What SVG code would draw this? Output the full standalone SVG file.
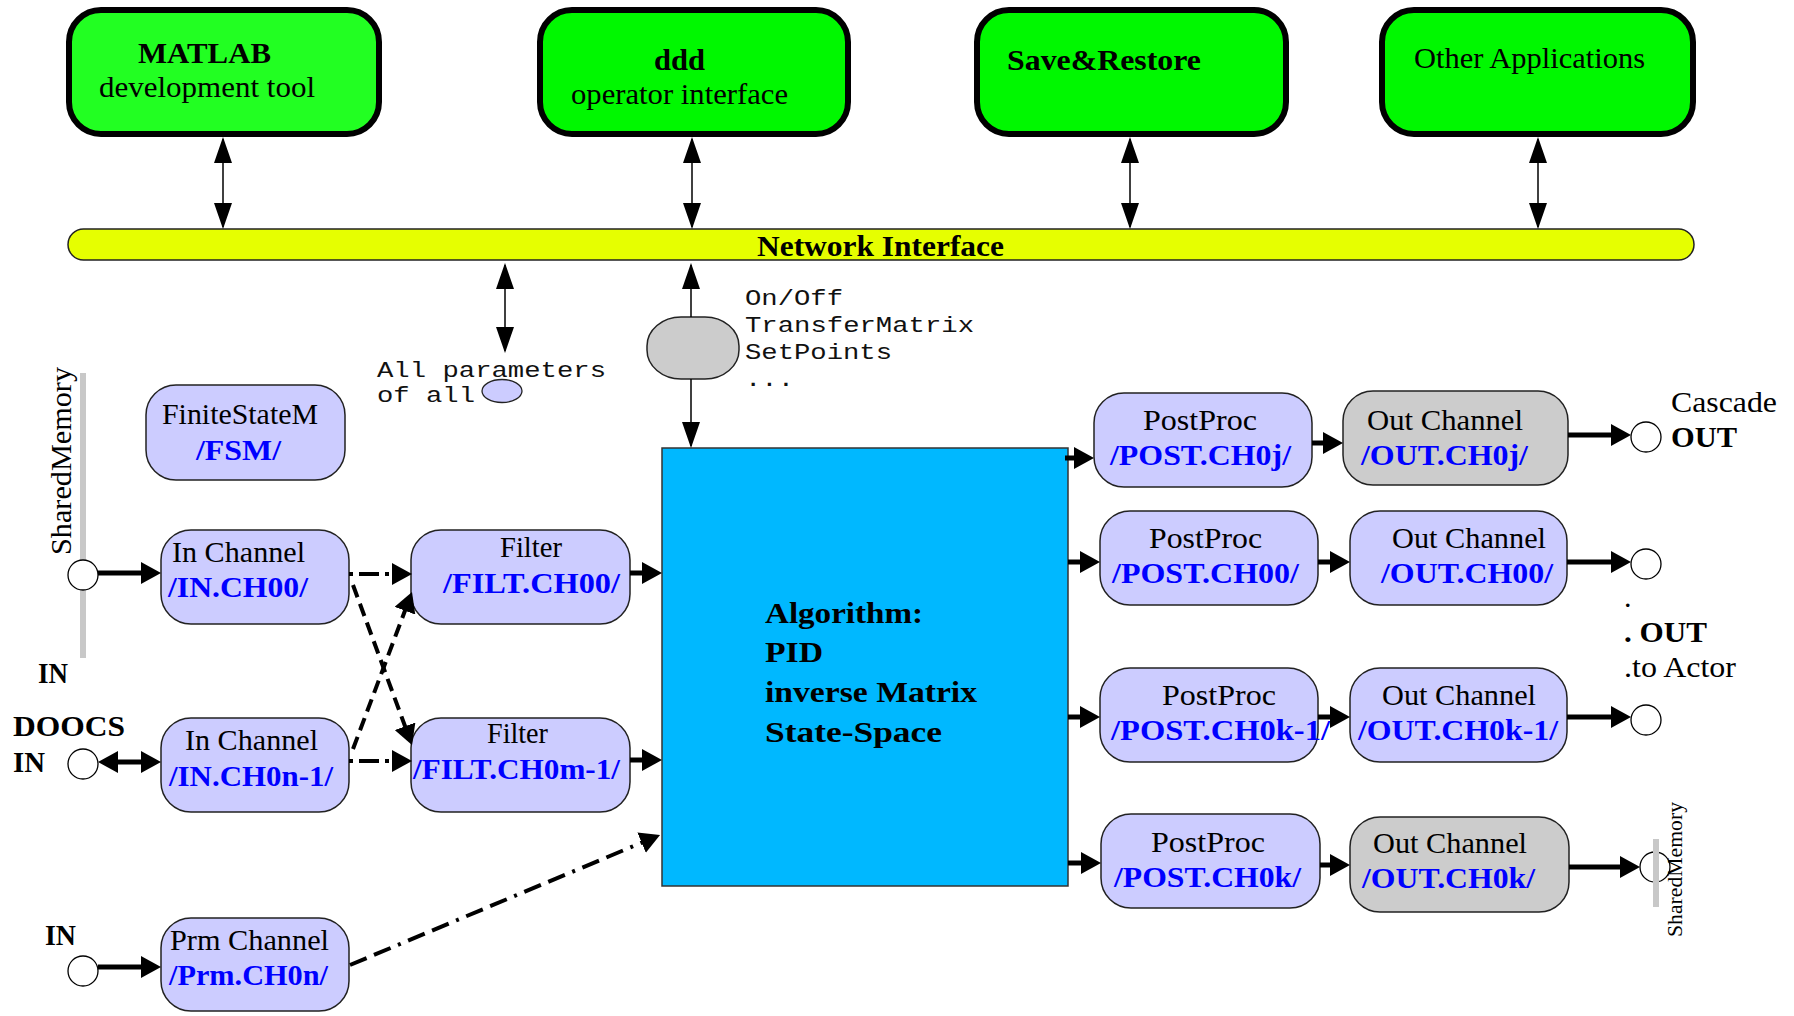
<svg xmlns="http://www.w3.org/2000/svg" width="1794" height="1016" viewBox="0 0 1794 1016">
  <style>
    .app { stroke: #000; stroke-width: 6; }
    .proc { fill: #ccccff; stroke: #222; stroke-width: 1.5; }
    .gray { fill: #cccccc; stroke: #222; stroke-width: 1.5; }
    .port { fill: #fff; stroke: #000; stroke-width: 1.3; }
    .bar { fill: #c8c8c8; }
    .t { font-family: "Liberation Serif", "Times New Roman", serif; font-size: 30px; fill: #000; }
    .b { font-weight: bold; }
    .id { font-weight: bold; fill: #0000ff; }
    .mono { font-family: "Liberation Mono", "Courier New", monospace; font-size: 22px; fill: #111; }
    .thin { stroke: #000; stroke-width: 1.5; fill: none; }
    .thick { stroke: #000; stroke-width: 5; fill: none; }
    .dashdot { stroke: #000; stroke-width: 4; fill: none; stroke-dasharray: 4 6 20 6; }
    .dash { stroke: #000; stroke-width: 4; fill: none; stroke-dasharray: 13 7; }
    .longdd { stroke: #000; stroke-width: 4; fill: none; stroke-dasharray: 18 8 18 8 3 8; }
  </style>
  <defs>
    <!-- wide filled head for the signal flow lines -->
    <marker id="head" markerUnits="userSpaceOnUse" viewBox="0 0 20 22" markerWidth="20" markerHeight="22" refX="14" refY="11" orient="auto-start-reverse">
      <path d="M0,0 L20,11 L0,22 z" fill="#000"/>
    </marker>
    <!-- slim head for the network links -->
    <marker id="slim" markerUnits="userSpaceOnUse" viewBox="0 0 26 18" markerWidth="26" markerHeight="18" refX="24" refY="9" orient="auto-start-reverse">
      <path d="M0,0 L26,9 L0,18 z" fill="#000"/>
    </marker>
  </defs>

  <rect width="1794" height="1016" fill="#fff"/>

  <!-- applications -->
  <g id="matlab">
    <rect class="app" x="69" y="10" width="310" height="124" rx="32" fill="#22ff22"/>
    <text class="t b" x="138" y="63" textLength="133" lengthAdjust="spacingAndGlyphs">MATLAB</text>
    <text class="t" x="99" y="97" textLength="216" lengthAdjust="spacingAndGlyphs">development tool</text>
  </g>
  <g id="ddd">
    <rect class="app" x="540" y="10" width="308" height="124" rx="32" fill="#00f800"/>
    <text class="t b" x="654" y="70" textLength="51" lengthAdjust="spacingAndGlyphs">ddd</text>
    <text class="t" x="571" y="104" textLength="217" lengthAdjust="spacingAndGlyphs">operator interface</text>
  </g>
  <g id="save-restore">
    <rect class="app" x="977" y="10" width="309" height="124" rx="32" fill="#00f800"/>
    <text class="t b" x="1007" y="70" textLength="194" lengthAdjust="spacingAndGlyphs">Save&amp;Restore</text>
  </g>
  <g id="other-apps">
    <rect class="app" x="1382" y="10" width="311" height="124" rx="32" fill="#00f800"/>
    <text class="t" x="1414" y="68" textLength="231" lengthAdjust="spacingAndGlyphs">Other Applications</text>
  </g>

  <!-- network bus -->
  <g id="network">
    <rect x="68" y="229" width="1626" height="31" rx="15.5" fill="#e6ff00" stroke="#222" stroke-width="1.5"/>
    <text class="t b" x="757" y="256" textLength="247" lengthAdjust="spacingAndGlyphs">Network Interface</text>
  </g>

  <!-- parameter access -->
  <g id="all-params">
    <text class="mono" x="377" y="377" textLength="229" lengthAdjust="spacingAndGlyphs">All parameters</text>
    <text class="mono" x="377" y="402" textLength="98" lengthAdjust="spacingAndGlyphs">of all</text>
    <ellipse cx="502" cy="391" rx="20" ry="11.5" fill="#ccccff" stroke="#222" stroke-width="1.3"/>
  </g>
  <g id="control-params">
    <rect class="gray" x="647" y="317" width="92" height="62" rx="34" ry="29"/>
    <text class="mono" x="745" y="305" textLength="98" lengthAdjust="spacingAndGlyphs">On/Off</text>
    <text class="mono" x="745" y="332" textLength="229" lengthAdjust="spacingAndGlyphs">TransferMatrix</text>
    <text class="mono" x="745" y="359" textLength="147" lengthAdjust="spacingAndGlyphs">SetPoints</text>
    <text class="mono" x="745" y="386" textLength="49" lengthAdjust="spacingAndGlyphs">...</text>
  </g>

  <!-- shared memory input side -->
  <g id="shm-in">
    <rect class="bar" x="80" y="373" width="6" height="285"/>
    <text class="t" transform="translate(71,555) rotate(-90)" textLength="188" lengthAdjust="spacingAndGlyphs">SharedMemory</text>
    <circle class="port" cx="83" cy="575" r="15"/>
    <text class="t b" x="38" y="683" textLength="30" lengthAdjust="spacingAndGlyphs">IN</text>
  </g>
  <g id="doocs-in">
    <text class="t b" x="13" y="736" textLength="112" lengthAdjust="spacingAndGlyphs">DOOCS</text>
    <text class="t b" x="13" y="772" textLength="32" lengthAdjust="spacingAndGlyphs">IN</text>
    <circle class="port" cx="83" cy="764" r="15"/>
  </g>
  <g id="prm-in">
    <text class="t b" x="45" y="945" textLength="31" lengthAdjust="spacingAndGlyphs">IN</text>
    <circle class="port" cx="83" cy="971" r="15"/>
  </g>

  <!-- processing nodes -->
  <g id="fsm">
    <rect class="proc" x="146" y="385" width="199" height="95" rx="30"/>
    <text class="t" x="162" y="424" textLength="156" lengthAdjust="spacingAndGlyphs">FiniteStateM</text>
    <text class="t id" x="196" y="460" textLength="85" lengthAdjust="spacingAndGlyphs">/FSM/</text>
  </g>
  <g id="in-ch00">
    <rect class="proc" x="161" y="530" width="188" height="94" rx="30"/>
    <text class="t" x="172" y="562" textLength="133" lengthAdjust="spacingAndGlyphs">In Channel</text>
    <text class="t id" x="168" y="597" textLength="140" lengthAdjust="spacingAndGlyphs">/IN.CH00/</text>
  </g>
  <g id="in-ch0n-1">
    <rect class="proc" x="161" y="718" width="188" height="94" rx="30"/>
    <text class="t" x="185" y="750" textLength="133" lengthAdjust="spacingAndGlyphs">In Channel</text>
    <text class="t id" x="169" y="786" textLength="164" lengthAdjust="spacingAndGlyphs">/IN.CH0n-1/</text>
  </g>
  <g id="prm-ch0n">
    <rect class="proc" x="161" y="918" width="188" height="93" rx="30"/>
    <text class="t" x="170" y="950" textLength="159" lengthAdjust="spacingAndGlyphs">Prm Channel</text>
    <text class="t id" x="169" y="985" textLength="159" lengthAdjust="spacingAndGlyphs">/Prm.CH0n/</text>
  </g>
  <g id="filt-ch00">
    <rect class="proc" x="411" y="530" width="219" height="94" rx="30"/>
    <text class="t" x="500" y="557" textLength="62" lengthAdjust="spacingAndGlyphs">Filter</text>
    <text class="t id" x="443" y="593" textLength="177" lengthAdjust="spacingAndGlyphs">/FILT.CH00/</text>
  </g>
  <g id="filt-ch0m-1">
    <rect class="proc" x="411" y="718" width="219" height="94" rx="30"/>
    <text class="t" x="487" y="743" textLength="61" lengthAdjust="spacingAndGlyphs">Filter</text>
    <text class="t id" x="413" y="779" textLength="207" lengthAdjust="spacingAndGlyphs">/FILT.CH0m-1/</text>
  </g>
  <g id="algorithm">
    <rect x="662" y="448" width="406" height="438" fill="#00b8ff" stroke="#333" stroke-width="1.5"/>
    <text class="t b" x="765" y="623" textLength="158" lengthAdjust="spacingAndGlyphs">Algorithm:</text>
    <text class="t b" x="765" y="662" textLength="58" lengthAdjust="spacingAndGlyphs">PID</text>
    <text class="t b" x="765" y="702" textLength="212" lengthAdjust="spacingAndGlyphs">inverse Matrix</text>
    <text class="t b" x="765" y="742" textLength="177" lengthAdjust="spacingAndGlyphs">State-Space</text>
  </g>

  <g id="post-ch0j">
    <rect class="proc" x="1094" y="393" width="218" height="94" rx="30"/>
    <text class="t" x="1143" y="430" textLength="114" lengthAdjust="spacingAndGlyphs">PostProc</text>
    <text class="t id" x="1110" y="465" textLength="181" lengthAdjust="spacingAndGlyphs">/POST.CH0j/</text>
  </g>
  <g id="out-ch0j">
    <rect class="gray" x="1343" y="391" width="225" height="94" rx="30"/>
    <text class="t" x="1367" y="430" textLength="156" lengthAdjust="spacingAndGlyphs">Out Channel</text>
    <text class="t id" x="1361" y="465" textLength="167" lengthAdjust="spacingAndGlyphs">/OUT.CH0j/</text>
  </g>
  <g id="post-ch00">
    <rect class="proc" x="1100" y="511" width="218" height="94" rx="30"/>
    <text class="t" x="1149" y="548" textLength="113" lengthAdjust="spacingAndGlyphs">PostProc</text>
    <text class="t id" x="1112" y="583" textLength="187" lengthAdjust="spacingAndGlyphs">/POST.CH00/</text>
  </g>
  <g id="out-ch00">
    <rect class="proc" x="1350" y="511" width="217" height="94" rx="30"/>
    <text class="t" x="1392" y="548" textLength="154" lengthAdjust="spacingAndGlyphs">Out Channel</text>
    <text class="t id" x="1381" y="583" textLength="172" lengthAdjust="spacingAndGlyphs">/OUT.CH00/</text>
  </g>
  <g id="post-ch0k-1">
    <rect class="proc" x="1100" y="668" width="218" height="94" rx="30"/>
    <text class="t" x="1162" y="705" textLength="114" lengthAdjust="spacingAndGlyphs">PostProc</text>
    <text class="t id" x="1111" y="740" textLength="219" lengthAdjust="spacingAndGlyphs">/POST.CH0k-1/</text>
  </g>
  <g id="out-ch0k-1">
    <rect class="proc" x="1350" y="668" width="217" height="94" rx="30"/>
    <text class="t" x="1382" y="705" textLength="154" lengthAdjust="spacingAndGlyphs">Out Channel</text>
    <text class="t id" x="1358" y="740" textLength="200" lengthAdjust="spacingAndGlyphs">/OUT.CH0k-1/</text>
  </g>
  <g id="post-ch0k">
    <rect class="proc" x="1101" y="814" width="219" height="94" rx="30"/>
    <text class="t" x="1151" y="852" textLength="114" lengthAdjust="spacingAndGlyphs">PostProc</text>
    <text class="t id" x="1114" y="887" textLength="187" lengthAdjust="spacingAndGlyphs">/POST.CH0k/</text>
  </g>
  <g id="out-ch0k">
    <rect class="gray" x="1350" y="817" width="219" height="95" rx="30"/>
    <text class="t" x="1373" y="853" textLength="154" lengthAdjust="spacingAndGlyphs">Out Channel</text>
    <text class="t id" x="1362" y="888" textLength="173" lengthAdjust="spacingAndGlyphs">/OUT.CH0k/</text>
  </g>

  <!-- output ports -->
  <g id="cascade-out">
    <circle class="port" cx="1646" cy="437" r="15"/>
    <text class="t" x="1671" y="412" textLength="106" lengthAdjust="spacingAndGlyphs">Cascade</text>
    <text class="t b" x="1671" y="447" textLength="66" lengthAdjust="spacingAndGlyphs">OUT</text>
  </g>
  <g id="actor-out">
    <circle class="port" cx="1646" cy="564" r="15"/>
    <circle class="port" cx="1646" cy="720" r="15"/>
    <text class="t" x="1624" y="607">.</text>
    <text class="t b" x="1624" y="642" textLength="83" lengthAdjust="spacingAndGlyphs">. OUT</text>
    <text class="t" x="1624" y="677" textLength="112" lengthAdjust="spacingAndGlyphs">.to Actor</text>
  </g>
  <g id="shm-out">
    <circle class="port" cx="1655" cy="867" r="15"/>
    <rect class="bar" x="1653" y="839" width="6" height="68"/>
    <text class="t" style="font-size:21px" transform="translate(1682,937) rotate(-90)" textLength="135" lengthAdjust="spacingAndGlyphs">SharedMemory</text>
  </g>

  <!-- connectors -->
  <g id="connectors">
    <!-- application links to the bus -->
    <line class="thin" x1="223" y1="139" x2="223" y2="227" marker-start="url(#slim)" marker-end="url(#slim)"/>
    <line class="thin" x1="692" y1="139" x2="692" y2="227" marker-start="url(#slim)" marker-end="url(#slim)"/>
    <line class="thin" x1="1130" y1="139" x2="1130" y2="227" marker-start="url(#slim)" marker-end="url(#slim)"/>
    <line class="thin" x1="1538" y1="139" x2="1538" y2="227" marker-start="url(#slim)" marker-end="url(#slim)"/>
    <line class="thin" x1="505" y1="265" x2="505" y2="351" marker-start="url(#slim)" marker-end="url(#slim)"/>
    <line class="thin" x1="691" y1="317" x2="691" y2="265" marker-end="url(#slim)"/>
    <line class="thin" x1="691" y1="379" x2="691" y2="446" marker-end="url(#slim)"/>

    <!-- inputs -->
    <line class="thick" x1="98" y1="573" x2="155" y2="573" marker-end="url(#head)"/>
    <line class="thick" x1="104" y1="762" x2="155" y2="762" marker-start="url(#head)" marker-end="url(#head)"/>
    <line class="thick" x1="98" y1="967" x2="155" y2="967" marker-end="url(#head)"/>

    <!-- channels to filters -->
    <line class="dashdot" x1="349" y1="574" x2="406" y2="574" marker-end="url(#head)"/>
    <line class="dashdot" x1="349" y1="761" x2="406" y2="761" marker-end="url(#head)"/>
    <line class="dash" x1="353" y1="585" x2="409.9" y2="739.4" marker-end="url(#head)"/>
    <line class="dash" x1="353" y1="749" x2="409.9" y2="597.6" marker-end="url(#head)"/>

    <!-- into the algorithm -->
    <line class="thick" x1="630" y1="573" x2="656" y2="573" marker-end="url(#head)"/>
    <line class="thick" x1="630" y1="760" x2="656" y2="760" marker-end="url(#head)"/>
    <line class="longdd" x1="350" y1="965" x2="654.5" y2="837.3" marker-end="url(#head)"/>

    <!-- out of the algorithm -->
    <line class="thick" x1="1065" y1="458" x2="1088" y2="458" marker-end="url(#head)"/>
    <line class="thick" x1="1068" y1="562" x2="1094" y2="562" marker-end="url(#head)"/>
    <line class="thick" x1="1068" y1="717" x2="1094" y2="717" marker-end="url(#head)"/>
    <line class="thick" x1="1068" y1="863" x2="1095" y2="863" marker-end="url(#head)"/>

    <!-- post processing to output channels -->
    <line class="thick" x1="1312" y1="443" x2="1337" y2="443" marker-end="url(#head)"/>
    <line class="thick" x1="1318" y1="562" x2="1344" y2="562" marker-end="url(#head)"/>
    <line class="thick" x1="1318" y1="717" x2="1344" y2="717" marker-end="url(#head)"/>
    <line class="thick" x1="1320" y1="865" x2="1344" y2="865" marker-end="url(#head)"/>

    <!-- output channels to ports -->
    <line class="thick" x1="1568" y1="435" x2="1625" y2="435" marker-end="url(#head)"/>
    <line class="thick" x1="1567" y1="562" x2="1625" y2="562" marker-end="url(#head)"/>
    <line class="thick" x1="1567" y1="717" x2="1625" y2="717" marker-end="url(#head)"/>
    <line class="thick" x1="1569" y1="867" x2="1634" y2="867" marker-end="url(#head)"/>
  </g>
</svg>
